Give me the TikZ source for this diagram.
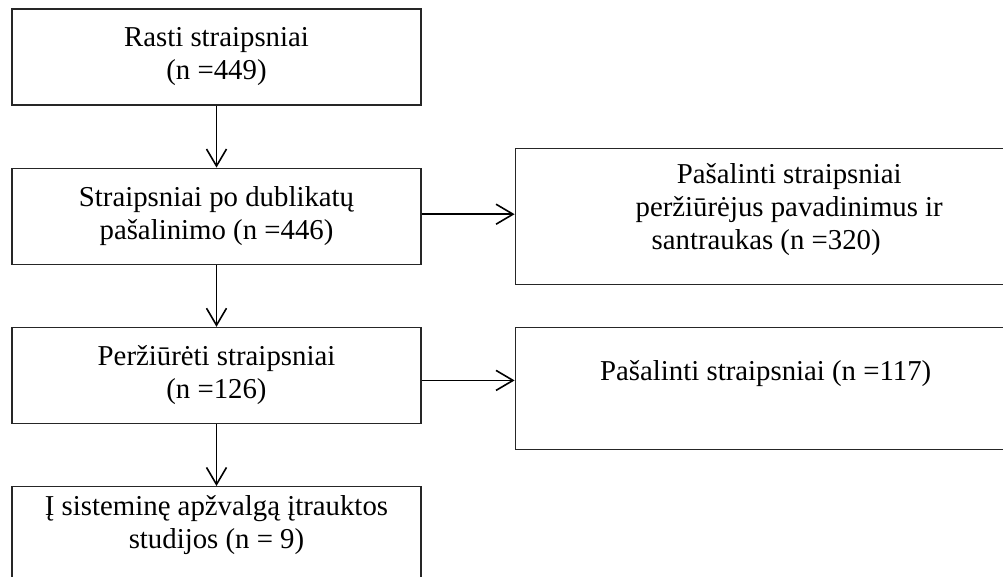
\documentclass[tikz,border=0pt]{standalone}
\usepackage{fontspec}
\setmainfont{Liberation Serif}
\usetikzlibrary{positioning,arrows.meta}
\tikzset{
  block/.style = {draw=black!85, line width=1.2pt, rectangle, minimum height=96pt, minimum width=409pt,
                  align=center, font=\fontsize{28.8}{33}\selectfont},
  wideblock/.style = {block, minimum width=548pt},
}

\begin{document}
\begin{tikzpicture}[>={Straight Barb[length=17pt,width=20pt]}, line width=1.6pt, node distance=62pt]
    \useasboundingbox (0,0) rectangle (1003pt,-576pt);
    \node [block] (rasti) at (216.5pt,-57pt) {Rasti straipsniai\\(n =449)};
    \node [block, below=of rasti] (dublikatai) {Straipsniai po dublikatų\\pašalinimo (n =446)};
    \node [block, below=of dublikatai] (perziureti) {Peržiūrėti straipsniai\\(n =126)};
    \node [block, below=of perziureti, text depth=26pt] (itraukti) {Į sisteminę apžvalgą įtrauktos\\studijos (n = 9)};
    \node [wideblock, right=93pt of dublikatai, minimum height=136pt, text depth=20pt] (pasalinti1)
        {Pašalinti straipsniai\\peržiūrėjus pavadinimus ir\\santraukas (n =320)\hspace*{46pt}};
    \node [wideblock, right=93pt of perziureti, yshift=-13pt, minimum height=122pt, text depth=36pt] (pasalinti2)
        {Pašalinti straipsniai (n =117)\hspace*{47pt}};
    \draw [->] (rasti) -- (dublikatai);
    \draw [->] (dublikatai) -- (perziureti);
    \draw [->] (perziureti) -- (itraukti);
    \draw [->] ([yshift=2pt]dublikatai.east) -- ([yshift=2pt]dublikatai.east -| pasalinti1.west);
    \draw [->] ([yshift=-5pt]perziureti.east) -- ([yshift=-5pt]perziureti.east -| pasalinti2.west);
\end{tikzpicture}
\end{document}
